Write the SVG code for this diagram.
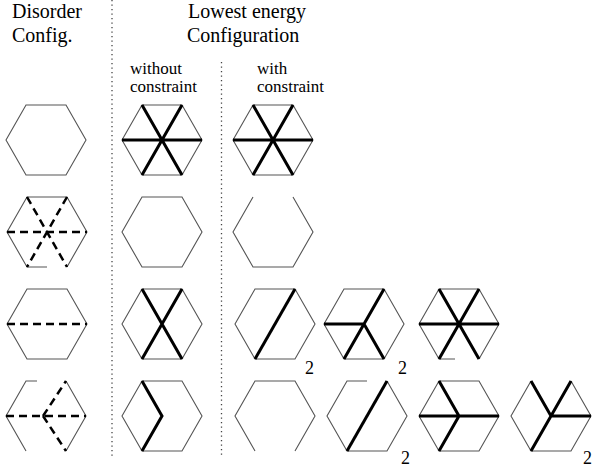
<svg xmlns="http://www.w3.org/2000/svg" xmlns:xlink="http://www.w3.org/1999/xlink" width="595" height="468" viewBox="0 0 595 468">
<style>
.hx{fill:none;stroke:#555;stroke-width:1.1}
.tk{fill:none;stroke:#000;stroke-width:3;stroke-linecap:butt}
.ds{fill:none;stroke:#000;stroke-width:2.5;stroke-dasharray:8,5}
.dot{fill:none;stroke:#444;stroke-width:1.3;stroke-dasharray:1.3,3.2}
.hd{font-family:"Liberation Serif","Times New Roman",serif;font-size:20px;fill:#000}
.sb{font-family:"Liberation Serif","Times New Roman",serif;font-size:17px;fill:#000}
.nm{font-family:"Liberation Serif","Times New Roman",serif;font-size:18px;fill:#000}
</style>
<defs>
<path id="hex" d="M-40,0 L-20,-35 L20,-35 L40,0 L20,35 L-20,35 Z"/>
</defs>
<g id="separators">
<line class="dot" x1="112" y1="0" x2="112" y2="458"/>
<line class="dot" x1="221.5" y1="62" x2="221.5" y2="455"/>
</g>
<g id="headers">
<text class="hd" x="12" y="18">Disorder</text>
<text class="hd" x="12" y="42">Config.</text>
<text class="hd" x="188" y="18">Lowest energy</text>
<text class="hd" x="187" y="42">Configuration</text>
<text class="sb" x="130" y="74">without</text>
<text class="sb" x="130" y="92">constraint</text>
<text class="sb" x="257" y="74">with</text>
<text class="sb" x="257" y="92">constraint</text>
</g>
<!-- Row 1 -->
<g id="r1-disorder" transform="translate(46,140)">
<use href="#hex" class="hx"/>
</g>
<g id="r1-without" transform="translate(162,140)">
<use href="#hex" class="hx"/>
<path class="tk" d="M-40,0 L40,0 M-20,-35 L20,35 M20,-35 L-20,35"/>
</g>
<g id="r1-with" transform="translate(273,140)">
<use href="#hex" class="hx"/>
<path class="tk" d="M-40,0 L40,0 M-20,-35 L20,35 M20,-35 L-20,35"/>
</g>
<!-- Row 2 -->
<g id="r2-disorder" transform="translate(47,232)">
<path class="hx" d="M0,35 L-20,35 L-40,0 L-20,-35 L20,-35 L40,0 L20,35"/>
<path class="ds" d="M-40,0 L40,0 M-20,-35 L20,35 M20,-35 L-20,35"/>
</g>
<g id="r2-without" transform="translate(162,232)">
<use href="#hex" class="hx"/>
</g>
<g id="r2-with" transform="translate(273,232)">
<path class="hx" d="M20,-35 L40,0 L20,35 L-20,35 L-40,0 L-20,-35"/>
</g>
<!-- Row 3 -->
<g id="r3-disorder" transform="translate(47,324)">
<use href="#hex" class="hx"/>
<path class="ds" d="M-40,0 L40,0"/>
</g>
<g id="r3-without" transform="translate(162,324)">
<use href="#hex" class="hx"/>
<path class="tk" d="M-20,-35 L20,35 M20,-35 L-20,35"/>
</g>
<g id="r3-with-a" transform="translate(275,324)">
<use href="#hex" class="hx"/>
<path class="tk" d="M-20,35 L20,-35"/>
</g>
<g id="r3-with-b" transform="translate(364,324)">
<use href="#hex" class="hx"/>
<path class="tk" d="M-40,0 L0,0 M20,-35 L-20,35 M0,0 L20,35"/>
</g>
<g id="r3-with-c" transform="translate(459,324)">
<path class="hx" d="M-4,35 L-20,35 L-40,0 L-20,-35 L20,-35 L40,0 L20,35"/>
<path class="tk" d="M-40,0 L40,0 M-20,-35 L20,35 M20,-35 L-20,35"/>
</g>
<g id="r3-labels">
<text class="nm" x="305" y="374">2</text>
<text class="nm" x="398" y="374">2</text>
</g>
<!-- Row 4 -->
<g id="r4-disorder" transform="translate(46,416)">
<path class="hx" d="M-20,35 L-40,0 L-20,-35 L-9,-35 M20,-35 L40,0 L20,35"/>
<path class="ds" d="M-40,0 L40,0 M-3,0 L20,-35 M-3,0 L20,35"/>
</g>
<g id="r4-without" transform="translate(162,416)">
<use href="#hex" class="hx"/>
<path class="tk" d="M-20,-35 L0,0 L-20,35"/>
</g>
<g id="r4-with-a" transform="translate(275,416)">
<path class="hx" d="M-20,35 L-40,0 L-20,-35 L20,-35 L40,0 L20,35"/>
</g>
<g id="r4-with-b" transform="translate(367,416)">
<path class="hx" d="M0,-35 L-20,-35 L-40,0 L-20,35 L20,35 L40,0 L20,-35"/>
<path class="tk" d="M-20,35 L20,-35"/>
</g>
<g id="r4-with-c" transform="translate(459,416)">
<use href="#hex" class="hx"/>
<path class="tk" d="M-40,0 L40,0 M-20,-35 L0,0 L-20,35"/>
</g>
<g id="r4-with-d" transform="translate(551,416)">
<path class="hx" d="M-20,-35 L-40,0 L-20,35 L20,35 L40,0 L20,-35"/>
<path class="tk" d="M-20,-35 L0,0 L20,-35 M0,0 L40,0 M0,0 L-20,35"/>
</g>
<g id="r4-labels">
<text class="nm" x="401" y="464">2</text>
<text class="nm" x="583" y="464">2</text>
</g>
</svg>
